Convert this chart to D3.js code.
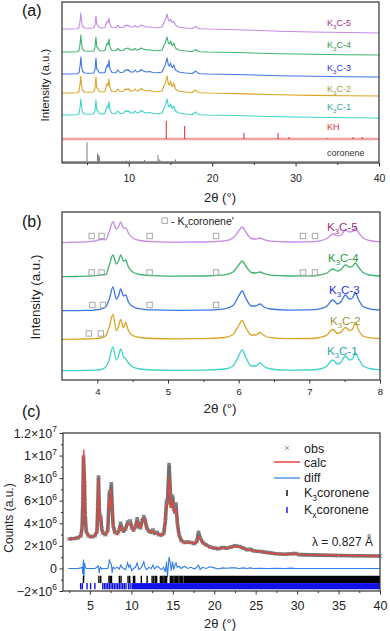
<!DOCTYPE html>
<html><head><meta charset="utf-8">
<script src="https://cdn.jsdelivr.net/npm/d3@7"></script>
<style>body{margin:0;background:#fff}svg{display:block}</style>
</head><body><svg id="c" width="390" height="631"></svg>
<script>
// ================= DATA =================
// ---- panel (a): 2θ grid and intensities (arbitrary units) ----
const gridA = [2, 3, 3.8, 4.05, 4.18, 4.26, 4.34, 4.45, 4.7, 5.2,
  5.8, 5.95, 6.07, 6.17, 6.3, 6.45, 6.8, 7.15, 7.32, 7.45,
  7.53, 7.63, 7.75, 8.0, 8.45, 8.7, 8.95, 9.35, 9.6, 9.75,
  9.9, 10.2, 10.55, 10.75, 10.95, 11.25, 11.5, 11.75, 12.1, 12.5,
  12.9, 13.5, 14.0, 14.25, 14.38, 14.6, 14.75, 14.9, 15.02, 15.15,
  15.25, 15.4, 15.6, 16.0, 16.8, 17.6, 18.05, 18.25, 18.6, 19.5,
  21, 23, 25, 28, 32, 36, 40];
const aK3C1 = [3, 3, 3.3, 4.5, 12, 19, 12, 6, 4, 3.8,
  4, 7, 18, 8, 7, 4.5, 4, 4.5, 10, 12,
  10, 16, 8, 4.5, 4.3, 7, 4.5, 4.8, 7, 6.5,
  7.5, 5, 5, 7, 5, 5.5, 7.5, 6, 5, 5.5,
  4.5, 4.3, 5, 10, 12, 19, 12, 11, 14, 10,
  9.5, 12, 7, 5, 4, 3.5, 6, 4, 3.3, 3,
  2.8, 2.5, 2, 1.3, 0.7, 0.3, 0];
const aK3C2 = [3, 3, 3.2, 4.5, 13, 20, 11, 6, 4, 3.7,
  4, 7, 19, 8, 7.5, 4.5, 4, 4.5, 11, 12.5,
  10, 17, 8, 4.5, 4.3, 7, 4.5, 4.8, 7, 6,
  7.5, 5, 5, 7, 5, 5.5, 7.5, 6, 5, 5.5,
  4.5, 4.3, 5, 11, 13, 20, 12, 11, 15, 10,
  9.5, 13, 7, 5, 4, 3.5, 6, 4, 3.3, 3,
  2.8, 2.4, 1.9, 1.2, 0.6, 0.3, 0];
const aK3C3 = [3, 3, 3.3, 4.5, 12, 20, 12, 6, 4, 3.8,
  4, 7, 19, 8, 7, 4.5, 4, 4.5, 10, 12,
  10, 17, 8, 4.5, 4.3, 7, 4.5, 4.8, 7, 6.5,
  7.5, 5, 5, 7, 5, 5.5, 7.5, 6, 5, 5.5,
  4.5, 4.3, 5, 10, 12, 19, 12, 11, 14, 10,
  9.5, 12, 7, 5, 4, 3.5, 6, 4, 3.3, 3,
  2.8, 2.5, 2, 1.3, 0.7, 0.3, 0];
const aK3C4 = [3, 3, 3.3, 4.5, 12, 20, 12, 6, 4, 3.8,
  4, 7, 18, 8, 7, 4.5, 4, 4.5, 10, 12,
  10, 16, 8, 4.5, 4.3, 6.5, 4.5, 4.8, 6.5, 6.5,
  7, 5, 5, 6.5, 5, 5.5, 7, 6, 5, 5.3,
  4.5, 4.3, 5, 10, 12, 18, 12, 11, 14, 10,
  9.5, 12, 7, 5, 4, 3.5, 5.5, 4, 3.3, 3,
  2.8, 2.5, 2, 1.3, 0.7, 0.3, 0];
const aK3C5 = [4, 4, 4.3, 5.5, 13, 20, 12, 7, 5, 4.8,
  5, 8, 17, 9, 7.5, 5.5, 5, 5.5, 10, 12,
  10.5, 15, 8.5, 5.5, 5.3, 7.5, 5.5, 5.8, 7.5, 7,
  8, 6, 6, 7.5, 6, 6.5, 8, 7, 6, 6,
  5.5, 5.3, 6, 11, 13, 19, 13, 12, 14, 11,
  10.5, 12, 8, 6, 5, 4.5, 6.5, 4.8, 4.3, 4,
  3.8, 3.3, 2.7, 1.8, 1, 0.5, 0];
const khPos = [14.5, 16.7, 23.8, 27.9, 29.2, 33.8, 36.9, 38.0];
const khInt = [18, 13, 6, 6, 2, 1, 2, 2];
const corPos = [5.0, 6.25, 6.4, 6.5, 9.3, 9.7, 10.1, 11.9, 13.5, 13.7, 13.9, 15.6];
const corInt = [19.4, 8.4, 6.7, 5, 1, 1.2, 1, 1.7, 6.7, 2.3, 1, 2.3];
const ticksA = [10, 20, 30, 40];
const minorA = [5, 15, 25, 35];

// ---- panel (b) ----
const gridB = [3.5, 3.7, 3.85, 3.95, 4.05, 4.12, 4.17, 4.22, 4.27, 4.3,
  4.33, 4.37, 4.4, 4.44, 4.5, 4.6, 4.8, 5.1, 5.5, 5.8,
  5.92, 6.0, 6.05, 6.1, 6.18, 6.24, 6.3, 6.36, 6.45, 6.7,
  7.0, 7.15, 7.25, 7.33, 7.4, 7.45, 7.51, 7.57, 7.61, 7.65,
  7.7, 7.76, 7.85, 8.0];
const bK3C1 = [0.3, 0.4, 0.6, 0.8, 1.5, 4, 12, 24, 11, 15,
  22, 14, 12.5, 8, 4, 2, 1, 0.6, 0.8, 2,
  5, 15, 21, 14, 5, 5, 8, 4.5, 2, 0.8,
  1, 2, 5, 11, 7, 9, 15, 11, 12, 18,
  12, 5, 2.5, 1.2];
const bK3C2 = [0.2, 0.3, 0.5, 0.8, 1.5, 4, 13, 25, 9, 13,
  20, 12, 17, 9, 4, 2, 1, 0.6, 0.8, 2,
  5, 14, 19, 12, 4.5, 4.5, 7, 4, 1.8, 0.8,
  1, 2, 4.5, 10, 6, 7.5, 12, 9, 10, 17,
  9, 3.5, 1.8, 1];
const bK3C3 = [0.3, 0.4, 0.6, 0.9, 1.8, 4.5, 12, 24, 12, 15,
  22, 15, 16, 9, 4.5, 2.2, 1.1, 0.7, 0.9, 2.2,
  5.5, 15, 20, 13, 5, 5, 7, 4, 2, 0.9,
  1.1, 2.2, 5, 11, 7, 9.5, 16, 12, 13, 18,
  11, 4.5, 2.2, 1];
const bK3C4 = [0.3, 0.5, 0.8, 1.2, 2.2, 2.5, 12, 22, 13, 16,
  22, 16, 17, 10, 5, 2.5, 1.3, 0.8, 1, 2.2,
  5, 12, 16, 11, 4.5, 4, 5, 3.3, 1.8, 1,
  1.1, 2, 4, 8, 6, 7.5, 12, 10, 10.5, 14,
  9.5, 4.5, 2, 1];
const bK3C5 = [0.4, 0.8, 1.2, 1.8, 3.5, 3.2, 12, 21, 14, 16,
  21, 15, 15, 10, 5, 2.5, 1.3, 0.8, 1, 2.2,
  5, 12, 16, 11, 4.5, 4, 5, 3.3, 1.8, 1,
  1.1, 2.2, 4.5, 9, 7, 8, 13, 11, 11.5, 15,
  10, 5, 2.5, 1.2];
const sqK3C5 = [3.92, 4.06, 4.74, 5.68, 6.91, 7.08];
const sqK3C4 = [3.92, 4.06, 4.74, 5.68, 6.91, 7.08];
const sqK3C3 = [3.93, 4.08, 4.74, 5.68];
const sqK3C2 = [3.88, 4.05];
const ticksB = [4, 5, 6, 7, 8];
const minorB = [4.5, 5.5, 6.5, 7.5];

// ---- panel (c): counts in units of 10^6 ----
const gridC = [2.4, 3.0, 3.5, 3.9, 4.05, 4.15, 4.22, 4.27, 4.35, 4.42,
  4.55, 4.8, 5.2, 5.6, 5.85, 5.95, 6.03, 6.12, 6.2, 6.3,
  6.42, 6.6, 6.9, 7.15, 7.28, 7.36, 7.45, 7.58, 7.68, 7.8,
  8.0, 8.3, 8.55, 8.7, 8.85, 9.05, 9.3, 9.55, 9.7, 9.85,
  10.05, 10.25, 10.5, 10.7, 10.9, 11.1, 11.3, 11.5, 11.65, 11.85,
  12.1, 12.4, 12.6, 12.8, 13.1, 13.3, 13.6, 13.9, 14.1, 14.25,
  14.35, 14.55, 14.7, 14.8, 14.97, 15.12, 15.22, 15.38, 15.55, 15.75,
  16.0, 16.4, 16.8, 17.2, 17.6, 17.9, 18.1, 18.3, 18.6, 19.0,
  19.5, 20.0, 20.5, 21.0, 21.5, 22.0, 22.5, 23.0, 23.5, 24.0,
  24.3, 24.8, 25.5, 26.5, 27.5, 28.5, 29.3, 29.8, 30.3, 31.5,
  33, 35, 37, 40];
const obsC = [2.6, 2.65, 2.7, 2.9, 3.6, 6.0, 9.9, 9.0, 7.5, 4.8,
  3.3, 2.9, 2.8, 2.9, 3.3, 5.5, 8.1, 5.5, 4.3, 4.6,
  3.5, 3.1, 3.0, 3.4, 5.5, 6.8, 6.0, 7.5, 5.5, 3.8,
  3.2, 3.1, 3.4, 4.0, 3.6, 3.3, 3.5, 4.1, 4.0, 4.2,
  3.6, 3.4, 3.7, 4.4, 3.7, 3.6, 4.2, 4.6, 4.3, 3.6,
  3.3, 3.2, 3.4, 3.1, 3.2, 3.0, 2.95, 3.1, 4.2, 6.0,
  5.8, 9.2, 6.8, 5.5, 6.4, 5.3, 5.0, 5.7, 4.0, 3.0,
  2.5, 2.3, 2.35, 2.3, 2.2, 2.4, 3.2, 2.7, 2.3, 2.1,
  1.9, 1.8, 1.75, 1.85, 1.8, 1.9, 2.0, 1.95, 1.8, 1.65,
  1.7, 1.55, 1.5, 1.4, 1.3, 1.25, 1.3, 1.32, 1.22, 1.2,
  1.18, 1.15, 1.13, 1.1];
const calcC = [2.6, 2.65, 2.7, 2.85, 3.5, 6.5, 9.5, 10.5, 6.8, 4.5,
  3.3, 2.9, 2.8, 2.9, 3.2, 5.2, 7.9, 5.3, 4.3, 4.5,
  3.5, 3.1, 3.0, 3.4, 5.0, 5.9, 5.4, 7.0, 5.6, 3.8,
  3.2, 3.0, 3.4, 3.8, 3.5, 3.3, 3.5, 3.9, 3.9, 4.0,
  3.7, 3.4, 3.6, 4.2, 3.7, 3.6, 4.1, 4.5, 4.2, 3.6,
  3.3, 3.2, 3.3, 3.1, 3.1, 3.0, 2.95, 3.0, 4.3, 5.6,
  5.4, 8.1, 6.3, 5.4, 6.0, 5.2, 5.0, 5.3, 4.0, 2.9,
  2.5, 2.25, 2.3, 2.25, 2.2, 2.35, 2.9, 2.6, 2.25, 2.1,
  1.85, 1.8, 1.75, 1.8, 1.8, 1.88, 1.95, 1.9, 1.8, 1.65,
  1.65, 1.55, 1.5, 1.4, 1.3, 1.25, 1.28, 1.3, 1.22, 1.2,
  1.18, 1.15, 1.13, 1.1];
const diffC = [0, 0, 0, 0.05, 0.1, -0.5, 0.8, -1.0, 0.5, 0.2,
  0, 0, 0, 0, 0.1, 0.2, 0.2, -0.4, 0, 0.1,
  -0.05, 0, 0, 0, 0.4, 0.8, 0.5, 0.4, -0.4, 0.1,
  0, 0.1, -0.05, 0.3, 0.1, 0, -0.1, 0.5, 0.1, 0.3,
  -0.2, 0, 0.1, 0.5, -0.1, 0, 0.2, 0.6, 0.1, -0.1,
  0.1, 0, 0.3, -0.05, 0.2, 0.1, -0.1, 0.1, -0.3, 0.6,
  -0.8, 1.0, 0.5, -0.2, 0.6, -0.1, 0.2, 0.5, 0.1, 0.2,
  0, 0.2, 0, 0.1, -0.05, 0.1, 0.3, -0.1, 0.1, 0,
  0.15, 0.05, -0.05, 0.05, 0.02, 0.05, 0.05, 0, 0.05, 0,
  0.05, 0, 0.02, 0, 0.02, 0, 0.03, 0, 0, 0,
  0, 0, 0, 0];
const k3Refl = [4.22, 6.08, 6.3, 7.3, 7.45, 7.6, 8.55, 8.75, 9.6, 9.8,
  10.25, 10.4, 11.2, 11.9, 12.5, 12.7, 12.9, 13.05, 13.5, 13.65, 13.8,
  13.95, 14.1, 14.25, 14.7, 14.85, 15.0, 15.15, 15.3, 15.45, 15.6, 15.75,
  15.9, 16.05, 16.2];
const k3Dense = [16.3, 40];
const kxRefl = [3.88, 4.08, 4.65, 5.08, 5.6, 6.55, 6.75, 6.95, 7.15, 7.35,
  7.55, 7.75, 7.95, 8.15, 8.35, 8.55, 8.75, 8.95, 9.15, 9.35, 9.65, 9.85];
const kxDense = [10.0, 40];
const ticksCx = [5, 10, 15, 20, 25, 30, 35, 40];
const minorCx = [2.5, 7.5, 12.5, 17.5, 22.5, 27.5, 32.5, 37.5];
const ticksCy = [-2, 0, 2, 4, 6, 8, 10, 12];
const minorCy = [-1, 1, 3, 5, 7, 9, 11];

// ================= DRAWING =================
const FONT = "'Liberation Sans', Arial, sans-serif";
const svg = d3.select("#c");
const AX = "#333";

function rich(parent, x, y, parts, fs, fill, anchor) {
  const t = parent.append("text").attr("x", x).attr("y", y)
    .attr("font-size", fs).attr("fill", fill).attr("font-family", FONT)
    .attr("text-anchor", anchor || "start");
  let cur = 0;
  parts.forEach(p => {
    const s = Array.isArray(p) ? p[0] : p;
    const kind = Array.isArray(p) ? p[1] : null;
    const target = kind === "sub" ? fs * 0.3 : kind === "sup" ? -fs * 0.42 : 0;
    const ts = t.append("tspan").attr("dy", target - cur).text(s);
    if (kind) ts.attr("font-size", fs * 0.68);
    cur = target;
  });
  return t;
}
function bottomAxis(g, scale, y, major, minor, fs, pad, fmt) {
  const a = g.append("g").attr("transform", `translate(0,${y})`)
    .call(d3.axisBottom(scale).tickValues(major).tickSize(3.5).tickPadding(pad).tickFormat(fmt || d3.format("d")));
  a.select(".domain").remove();
  a.selectAll("line").attr("stroke", AX);
  a.selectAll("text").attr("font-size", fs).attr("fill", "#222").attr("font-family", FONT);
  const m = g.append("g").attr("transform", `translate(0,${y})`)
    .call(d3.axisBottom(scale).tickValues(minor).tickSize(2).tickFormat(""));
  m.select(".domain").remove();
  m.selectAll("line").attr("stroke", AX);
}
function frame(g, x0, y0, x1, y1) {
  g.append("rect").attr("x", x0).attr("y", y0).attr("width", x1 - x0).attr("height", y1 - y0)
    .attr("fill", "none").attr("stroke", AX).attr("stroke-width", 1.2);
}

const names = ["K3C-1", "K3C-2", "K3C-3", "K3C-4", "K3C-5"];
const lineColors = ["#3fd3cb", "#dba523", "#3b78e6", "#3db46d", "#c48ae6"];
const labelColors = ["#27a7a2", "#a09a38", "#2c34e0", "#2e9c42", "#a0307e"];

// ---------- panel (a) ----------
{
  const g = svg.append("g");
  const x = d3.scaleLinear().domain([2, 40]).range([62, 379]);
  const y = d3.scaleLinear().domain([0, 161]).range([163, 2]);
  const offs = [45, 67, 86, 108, 130];
  const sets = [aK3C1, aK3C2, aK3C3, aK3C4, aK3C5];
  const line = d3.line().x(d => x(d[0])).y(d => y(d[1]));
  // coronene
  const corBase = 1.3;
  g.append("line").attr("x1", x(2)).attr("x2", x(40)).attr("y1", y(corBase)).attr("y2", y(corBase))
    .attr("stroke", "#9a9a9a").attr("stroke-width", 1.6);
  g.selectAll(".cor").data(corPos).join("line")
    .attr("x1", d => x(d)).attr("x2", d => x(d))
    .attr("y1", y(corBase)).attr("y2", (d, i) => y(corBase + corInt[i]))
    .attr("stroke", "#7a7a7a").attr("stroke-width", 1);
  // KH
  const khBase = 24;
  g.append("line").attr("x1", x(2)).attr("x2", x(40)).attr("y1", y(khBase)).attr("y2", y(khBase))
    .attr("stroke", "#f3a2a2").attr("stroke-width", 2.4);
  g.selectAll(".kh").data(khPos).join("line")
    .attr("x1", d => x(d)).attr("x2", d => x(d))
    .attr("y1", y(khBase)).attr("y2", (d, i) => y(khBase + khInt[i]))
    .attr("stroke", "#e23a3a").attr("stroke-width", 1.1);
  sets.forEach((vals, k) => {
    g.append("path").datum(gridA.map((t, i) => [t, vals[i] + offs[k]]))
      .attr("d", line).attr("fill", "none").attr("stroke", lineColors[k]).attr("stroke-width", 1.1)
      .attr("stroke-linejoin", "round");
  });
  frame(g, 62, 2, 379, 163);
  bottomAxis(g, x, 163, ticksA, minorA, 10.5, 8.5);
  // labels
  const lb = [110, 92, 71, 48, 26];
  names.forEach((n, k) => rich(g, 327, lb[k], ["K", ["3", "sub"], "C-" + n.slice(-1)], 9, labelColors[k]));
  rich(g, 327, 130, ["KH"], 9, "#e02828");
  rich(g, 327, 156, ["coronene"], 9, "#333");
  g.append("text").attr("transform", "translate(49,85) rotate(-90)").attr("text-anchor", "middle")
    .attr("font-size", 11.5).attr("font-family", FONT).attr("fill", "#222").text("Intensity (a.u.)");
  g.append("text").attr("x", 220).attr("y", 202).attr("text-anchor", "middle")
    .attr("font-size", 13).attr("font-family", FONT).attr("fill", "#222").text("2θ (°)");
  g.append("text").attr("x", 22).attr("y", 16).attr("font-size", 16).attr("font-family", FONT).attr("fill", "#111").text("(a)");
}

// ---------- panel (b) ----------
{
  const g = svg.append("g");
  const x = d3.scaleLinear().domain([3.5, 8]).range([62, 380]);
  const y = d3.scaleLinear().domain([0, 168]).range([380, 212]);
  const offs = [9, 40.5, 69, 103, 137];
  const sets = [bK3C1, bK3C2, bK3C3, bK3C4, bK3C5];
  const sqs = [[], sqK3C2, sqK3C3, sqK3C4, sqK3C5];
  const sqLevel = [0, 6, 6, 4.5, 7];
  const line = d3.line().x(d => x(d[0])).y(d => y(d[1])).curve(d3.curveMonotoneX);
  sets.forEach((vals, k) => {
    g.append("path").datum(gridB.map((t, i) => [t, vals[i] + offs[k]]))
      .attr("d", line).attr("fill", "none").attr("stroke", lineColors[k]).attr("stroke-width", 1.3);
    g.selectAll(null).data(sqs[k]).join("rect")
      .attr("x", d => x(d) - 2.7).attr("y", y(offs[k] + sqLevel[k]) - 2.7)
      .attr("width", 5.4).attr("height", 5.4).attr("fill", "none")
      .attr("stroke", "#a8a8a8").attr("stroke-width", 1);
  });
  frame(g, 62, 212, 380, 380);
  bottomAxis(g, x, 380, ticksB, minorB, 9.5, 4.5);
  const lb = [355, 325, 294, 262, 231];
  const lx = [327, 330, 329, 328, 327];
  names.forEach((n, k) => rich(g, lx[k], lb[k], ["K", ["3", "sub"], "C-" + n.slice(-1)], 11.5, labelColors[k]));
  // legend
  g.append("rect").attr("x", 162).attr("y", 218).attr("width", 5.4).attr("height", 5.4)
    .attr("fill", "none").attr("stroke", "#a8a8a8").attr("stroke-width", 1);
  rich(g, 171, 225, ["- K", ["x", "sub"], "coronene'"], 10.5, "#222");
  g.append("text").attr("transform", "translate(40,297) rotate(-90)").attr("text-anchor", "middle")
    .attr("font-size", 13.4).attr("font-family", FONT).attr("fill", "#222").text("Intensity (a.u.)");
  g.append("text").attr("x", 220).attr("y", 413).attr("text-anchor", "middle")
    .attr("font-size", 13.5).attr("font-family", FONT).attr("fill", "#222").text("2θ (°)");
  g.append("text").attr("x", 22).attr("y", 227).attr("font-size", 16).attr("font-family", FONT).attr("fill", "#111").text("(b)");
}

// ---------- panel (c) ----------
{
  const g = svg.append("g");
  const x = d3.scaleLinear().domain([1.75, 40]).range([63, 380]);
  const y = d3.scaleLinear().domain([-2, 12]).range([591, 433]);
  const line = d3.line().x(d => x(d[0])).y(d => y(d[1]));
  const obs = gridC.map((t, i) => [t, obsC[i]]);
  g.append("path").datum(obs).attr("d", line).attr("fill", "none")
    .attr("stroke", "#707070").attr("stroke-width", 3.6).attr("stroke-linejoin", "round");
  g.selectAll(".obs").data(obs).join("path")
    .attr("transform", d => `translate(${x(d[0])},${y(d[1])})`)
    .attr("d", "M-2,-2L2,2M-2,2L2,-2").attr("stroke", "#8a8a8a").attr("stroke-width", 0.9);
  g.append("path").datum(gridC.map((t, i) => [t, calcC[i]])).attr("d", line).attr("fill", "none")
    .attr("stroke", "#e8433d").attr("stroke-width", 1.3).attr("stroke-linejoin", "round");
  g.append("path").datum(gridC.map((t, i) => [t, diffC[i]])).attr("d", line).attr("fill", "none")
    .attr("stroke", "#2f7de6").attr("stroke-width", 1.1);
  // reflections
  const k3Row = [-0.65, -1.3], kxRow = [-1.3, -1.85];
  g.selectAll(".k3").data(k3Refl).join("line")
    .attr("x1", d => x(d)).attr("x2", d => x(d)).attr("y1", y(k3Row[0])).attr("y2", y(k3Row[1]))
    .attr("stroke", "#000").attr("stroke-width", 1.4);
  g.append("rect").attr("x", x(k3Dense[0])).attr("width", x(k3Dense[1]) - x(k3Dense[0]))
    .attr("y", y(k3Row[0])).attr("height", y(k3Row[1]) - y(k3Row[0])).attr("fill", "#000");
  g.selectAll(".kx").data(kxRefl).join("line")
    .attr("x1", d => x(d)).attr("x2", d => x(d)).attr("y1", y(kxRow[0])).attr("y2", y(kxRow[1]))
    .attr("stroke", "#1010e8").attr("stroke-width", 1.4);
  g.append("rect").attr("x", x(kxDense[0])).attr("width", x(kxDense[1]) - x(kxDense[0]))
    .attr("y", y(kxRow[0])).attr("height", y(kxRow[1]) - y(kxRow[0])).attr("fill", "#1010e8");
  frame(g, 63, 433, 380, 591);
  bottomAxis(g, x, 591, ticksCx, minorCx, 12.5, 7);
  // y axis
  const ya = g.append("g").attr("transform", "translate(63,0)")
    .call(d3.axisLeft(y).tickValues(ticksCy).tickSize(3.5).tickFormat(""));
  ya.select(".domain").remove(); ya.selectAll("line").attr("stroke", AX);
  const ym = g.append("g").attr("transform", "translate(63,0)")
    .call(d3.axisLeft(y).tickValues(minorCy).tickSize(2).tickFormat(""));
  ym.select(".domain").remove(); ym.selectAll("line").attr("stroke", AX);
  ticksCy.forEach(v => {
    const val = v * 1e6;
    let parts;
    if (val === 0) parts = ["0"];
    else {
      const e = Math.floor(Math.log10(Math.abs(val)));
      const m = +(val / Math.pow(10, e)).toFixed(2);
      parts = [(m < 0 ? "\u2212" + Math.abs(m) : String(m)) + "\u00d710", [String(e), "sup"]];
    }
    rich(g, 57, y(v) + 4.5, parts, 12.5, "#222", "end");
  });
  // legend
  const L = g.append("g");
  L.append("path").attr("transform", "translate(287,448)").attr("d", "M-2,-2L2,2M-2,2L2,-2")
    .attr("stroke", "#9a9a9a").attr("stroke-width", 1);
  L.append("line").attr("x1", 274).attr("x2", 300).attr("y1", 462).attr("y2", 462).attr("stroke", "#e8433d").attr("stroke-width", 1.5);
  L.append("line").attr("x1", 274).attr("x2", 300).attr("y1", 478).attr("y2", 478).attr("stroke", "#2f7de6").attr("stroke-width", 1.2);
  L.append("line").attr("x1", 287).attr("x2", 287).attr("y1", 490).attr("y2", 496).attr("stroke", "#000").attr("stroke-width", 1.4);
  L.append("line").attr("x1", 287).attr("x2", 287).attr("y1", 507).attr("y2", 513).attr("stroke", "#1010e8").attr("stroke-width", 1.4);
  rich(L, 304, 452.5, ["obs"], 12.5, "#222");
  rich(L, 304, 467, ["calc"], 12.5, "#222");
  rich(L, 304, 482, ["diff"], 12.5, "#222");
  rich(L, 304, 497, ["K", ["3", "sub"], "coronene"], 12.5, "#222");
  rich(L, 304, 514, ["K", ["x", "sub"], "coronene"], 12.5, "#222");
  rich(g, 373, 546, ["λ = 0.827 Å"], 12, "#222", "end");
  g.append("text").attr("transform", "translate(13,518) rotate(-90)").attr("text-anchor", "middle")
    .attr("font-size", 12).attr("font-family", FONT).attr("fill", "#222").text("Counts (a.u.)");
  g.append("text").attr("x", 220).attr("y", 628).attr("text-anchor", "middle")
    .attr("font-size", 13).attr("font-family", FONT).attr("fill", "#222").text("2θ (°)");
  g.append("text").attr("x", 22).attr("y", 417).attr("font-size", 16).attr("font-family", FONT).attr("fill", "#111").text("(c)");
}
</script></body></html>
